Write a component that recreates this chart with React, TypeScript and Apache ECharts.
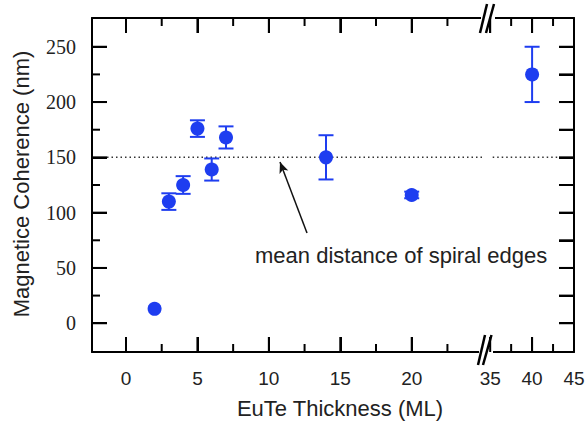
import React, { useEffect, useRef } from "react";
import * as echarts from "echarts";

// ---- data ----
const thicknessLeft = [2, 3, 4, 5, 6, 7, 14, 20];
const coherenceLeft = [13, 110, 125, 176, 139, 168, 150, 116];
const errorLeft = [0, 7.5, 8, 7.5, 10, 10, 20, 3];
const thicknessRight = [40];
const coherenceRight = [225];
const errorRight = [25];

// tick values / tick labels
const xMajorLeft = [0, 5, 10, 15, 20];
const xMinorLeft = [2.5, 7.5, 12.5, 17.5, 22.5];
const xMajorRight = [35, 40];
const xMinorRight = [37.5, 42.5];
const xLabelsLeft = [0, 5, 10, 15, 20];
const xLabelsRight = [35, 40, 45];
const yMajor = [0, 50, 100, 150, 200, 250];
const yMinor = [25, 75, 125, 175, 225];
const yRightTicks = [0, 25, 50, 75, 100, 125, 150, 175, 200, 225, 250];
const yLabels = [0, 50, 100, 150, 200, 250];

const meanDistance = 150;
const meanLineLeft = [-1.33, 25.0];
const meanLineRight = [35.3, 43.3];
const arrowFrom = [12.67, 81.6];
const arrowTo = [10.78, 145.8];

const xRangeLeft = [-2.38, 25.2];
const xRangeRight = [34.5, 45];
const yRange = [-26, 276];

const BLUE = "#1e3df0";
const SANS = "Liberation Sans";
const SERIF = "Liberation Serif";

const MAJOR = 15;
const MINOR = 8;

export default function App() {
  const ref = useRef<HTMLDivElement>(null);

  useEffect(() => {
    if (!ref.current) return;
    const chart = echarts.init(ref.current, null, { renderer: "svg" });

    const line = () => ({ show: true, onZero: false, lineStyle: { color: "#000", width: 2 } });
    const valueAxis = (grid: number, range: number[], position: string, ticks: number[]) => ({
      type: "value",
      gridIndex: grid,
      position,
      min: range[0],
      max: range[1],
      splitLine: { show: false },
      axisLine: line(),
      axisTick: {
        show: true,
        inside: true,
        length: MAJOR,
        customValues: ticks,
        lineStyle: { color: "#000", width: 2 },
      },
      minorTick: { show: false },
      axisLabel: { show: false },
    });

    const errRender = (params: any, api: any) => {
      const x = api.value(0);
      const y = api.value(1);
      const e = api.value(2);
      if (!e) return null;
      const top = api.coord([x, y + e]);
      const bot = api.coord([x, y - e]);
      const hw = 7.5;
      const style = { stroke: BLUE, lineWidth: 2 };
      return {
        type: "group",
        children: [
          { type: "line", shape: { x1: top[0], y1: top[1], x2: bot[0], y2: bot[1] }, style },
          { type: "line", shape: { x1: top[0] - hw, y1: top[1], x2: top[0] + hw, y2: top[1] }, style },
          { type: "line", shape: { x1: bot[0] - hw, y1: bot[1], x2: bot[0] + hw, y2: bot[1] }, style },
        ],
      };
    };

    const option: any = {
      animation: false,
      backgroundColor: "#fff",
      grid: [
        { left: 92, top: 18, width: 394, height: 334 },
        { left: 486, top: 18, width: 88, height: 334 },
      ],
      xAxis: [
        valueAxis(0, xRangeLeft, "bottom", xMajorLeft),
        valueAxis(0, xRangeLeft, "top", xMajorLeft),
        valueAxis(1, xRangeRight, "bottom", xMajorRight),
        valueAxis(1, xRangeRight, "top", xMajorRight),
      ],
      yAxis: [
        valueAxis(0, yRange, "left", yMajor),
        valueAxis(1, yRange, "right", yRightTicks),
      ],
      series: [
        {
          type: "line",
          xAxisIndex: 0,
          yAxisIndex: 0,
          data: meanLineLeft.map((x) => [x, meanDistance]),
          symbol: "none",
          lineStyle: { color: "#333", width: 1.5, type: [1.5, 3] },
          z: 1,
        },
        {
          type: "line",
          xAxisIndex: 2,
          yAxisIndex: 1,
          data: meanLineRight.map((x) => [x, meanDistance]),
          symbol: "none",
          lineStyle: { color: "#333", width: 1.5, type: [1.5, 3] },
          z: 1,
        },
        {
          type: "custom",
          xAxisIndex: 0,
          yAxisIndex: 0,
          data: thicknessLeft.map((x, i) => [x, coherenceLeft[i], errorLeft[i]]),
          encode: { x: 0, y: 1 },
          renderItem: errRender,
          z: 2,
        },
        {
          type: "custom",
          xAxisIndex: 2,
          yAxisIndex: 1,
          data: thicknessRight.map((x, i) => [x, coherenceRight[i], errorRight[i]]),
          encode: { x: 0, y: 1 },
          renderItem: errRender,
          z: 2,
        },
        {
          type: "scatter",
          xAxisIndex: 0,
          yAxisIndex: 0,
          data: thicknessLeft.map((x, i) => [x, coherenceLeft[i]]),
          symbol: "circle",
          symbolSize: 14,
          itemStyle: { color: BLUE, opacity: 1 },
          z: 3,
          markLine: {
            silent: true,
            symbol: ["none", "arrow"],
            symbolSize: [7, 11],
            label: { show: false },
            lineStyle: { color: "#111", width: 1.5, type: "solid" },
            data: [[{ coord: arrowFrom }, { coord: arrowTo }]],
          },
        },
        {
          type: "scatter",
          xAxisIndex: 2,
          yAxisIndex: 1,
          data: thicknessRight.map((x, i) => [x, coherenceRight[i]]),
          symbol: "circle",
          symbolSize: 14,
          itemStyle: { color: BLUE, opacity: 1 },
          z: 3,
        },
      ],
    };

    chart.setOption(option);

    // ticks and tick labels, positioned through the axes' scales
    const finderL = { xAxisIndex: 0, yAxisIndex: 0 };
    const finderR = { xAxisIndex: 2, yAxisIndex: 1 };
    const px = (finder: any, x: number, y: number) => chart.convertToPixel(finder, [x, y]) as number[];
    const seg = (x1: number, y1: number, x2: number, y2: number) => ({
      type: "line",
      z: 102,
      shape: { x1, y1, x2, y2 },
      style: { stroke: "#000", lineWidth: 2 },
    });

    const g: any[] = [];
    const addXTicks = (finder: any, vals: number[], len: number) => {
      vals.forEach((v) => {
        const b = px(finder, v, yRange[0]);
        const t = px(finder, v, yRange[1]);
        g.push(seg(b[0], b[1], b[0], b[1] - len));
        g.push(seg(t[0], t[1], t[0], t[1] + len));
      });
    };
    addXTicks(finderL, xMajorLeft, MAJOR);
    addXTicks(finderL, xMinorLeft, MINOR);
    addXTicks(finderR, xMajorRight, MAJOR);
    addXTicks(finderR, xMinorRight, MINOR);
    yMajor.forEach((v) => {
      const p = px(finderL, xRangeLeft[0], v);
      g.push(seg(p[0], p[1], p[0] + MAJOR, p[1]));
    });
    yMinor.forEach((v) => {
      const p = px(finderL, xRangeLeft[0], v);
      g.push(seg(p[0], p[1], p[0] + MINOR, p[1]));
    });
    yRightTicks.forEach((v) => {
      const p = px(finderR, xRangeRight[1], v);
      g.push(seg(p[0], p[1], p[0] - MAJOR, p[1]));
    });
    const xLab = (finder: any, v: number) => {
      const p = px(finder, v, yRange[0]);
      return {
        type: "text",
        z: 102,
        x: p[0],
        y: p[1] + 26,
        style: { text: String(v), fill: "#222", font: `19px "${SANS}"`, align: "center", verticalAlign: "middle" },
      };
    };
    xLabelsLeft.forEach((v) => g.push(xLab(finderL, v)));
    xLabelsRight.forEach((v) => g.push(xLab(finderR, v)));
    yLabels.forEach((v) => {
      const p = px(finderL, xRangeLeft[0], v);
      g.push({
        type: "text",
        z: 102,
        x: p[0] - 16,
        y: p[1],
        style: { text: String(v), fill: "#222", font: `20px "${SERIF}", serif`, align: "right", verticalAlign: "middle" },
      });
    });

    // axis break marks and annotations
    g.push(
      { type: "rect", z: 100, shape: { x: 481, y: 14, width: 14, height: 8 }, style: { fill: "#fff" } },
      { type: "rect", z: 100, shape: { x: 479, y: 347, width: 14, height: 8 }, style: { fill: "#fff" } },
      { type: "line", z: 101, shape: { x1: 480, y1: 33, x2: 487, y2: 4 }, style: { stroke: "#000", lineWidth: 2.5 } },
      { type: "line", z: 101, shape: { x1: 486, y1: 33, x2: 494, y2: 4 }, style: { stroke: "#000", lineWidth: 2.5 } },
      { type: "line", z: 101, shape: { x1: 478, y1: 365, x2: 485, y2: 335 }, style: { stroke: "#000", lineWidth: 2.5 } },
      { type: "line", z: 101, shape: { x1: 483, y1: 365, x2: 491.5, y2: 335 }, style: { stroke: "#000", lineWidth: 2.5 } },
      {
        type: "text", z: 101, x: 255, y: 255,
        style: { text: "mean distance of spiral edges", fill: "#222", font: `22px "${SANS}"`, verticalAlign: "middle", align: "left" },
      },
      {
        type: "text", z: 101, x: 340, y: 408,
        style: { text: "EuTe Thickness (ML)", fill: "#222", font: `22px "${SANS}"`, verticalAlign: "middle", align: "center" },
      },
      {
        type: "text", z: 101, x: 21, y: 184, rotation: Math.PI / 2,
        style: { text: "Magnetice Coherence (nm)", fill: "#222", font: `22px "${SANS}"`, verticalAlign: "middle", align: "center" },
      }
    );

    chart.setOption({ graphic: { elements: g } });
    return () => chart.dispose();
  }, []);

  return (
    <div
      ref={ref}
      style={{ position: "fixed", left: 0, top: 0, width: 585, height: 422, background: "#fff" }}
    />
  );
}
